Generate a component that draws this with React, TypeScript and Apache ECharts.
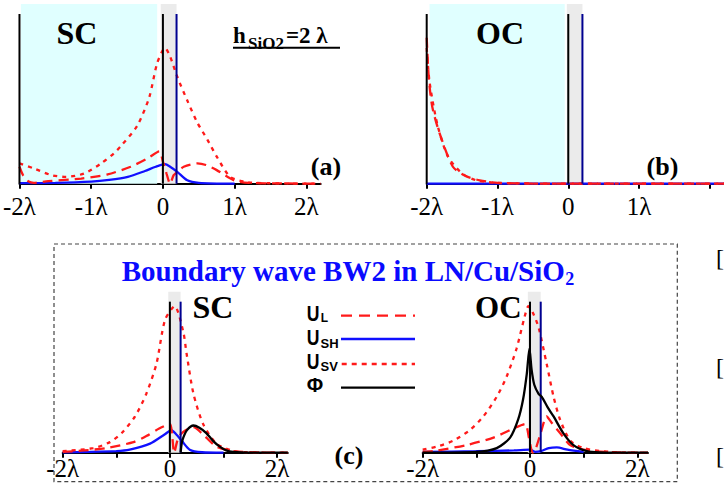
import React, { useEffect, useRef } from "react";
import * as echarts from "echarts";

// ---------- data (x in wavelengths λ, y normalised amplitude) ----------
const tickValues = [-2, -1, 0, 1, 2];
const tickLabels = ["-2λ", "-1λ", "0", "1λ", "2λ"];
const labelValuesA = [-2, -1, 0, 1, 2];
const labelValuesB = [-2, -1, 0, 1];
const labelValuesC = [-2, 0, 2];

// panel (a): SC, h_SiO2 = 2λ
const aUL = [[-2, 0.1], [-1.95, 0.05], [-1.88, 0.015], [-1.8, 0.005], [-1.6, 0.015], [-1.14, 0.03], [-0.77, 0.055], [-0.45, 0.1], [-0.21, 0.15], [-0.05, 0.19], [0.0, 0.13], [0.05, 0.06], [0.1, 0.0], [0.15, 0.05], [0.2, 0.07], [0.29, 0.1], [0.48, 0.12], [0.6, 0.11], [0.75, 0.08], [0.99, 0.02], [1.2, 0.005], [1.6, 0.002], [2.2, 0]];
const aUSV = [[-2, 0.12], [-1.8, 0.09], [-1.55, 0.05], [-1.35, 0.04], [-1.1, 0.06], [-0.86, 0.12], [-0.68, 0.18], [-0.59, 0.22], [-0.36, 0.34], [-0.19, 0.51], [-0.08, 0.71], [0.03, 0.8], [0.1, 0.75], [0.2, 0.63], [0.34, 0.49], [0.48, 0.36], [0.62, 0.26], [0.75, 0.16], [0.94, 0.04], [1.2, 0.008], [1.6, 0.002], [2.2, 0]];
const aUSH = [[-2, 0.003], [-1.5, 0.005], [-1, 0.012], [-0.75, 0.022], [-0.49, 0.04], [-0.25, 0.075], [-0.1, 0.1], [0.03, 0.115], [0.1, 0.1], [0.2, 0.07], [0.34, 0.02], [0.5, 0.005], [1, 0]];

// panel (b): OC
const bUL = [[-2, 0.86], [-1.97, 0.62], [-1.92, 0.45], [-1.82, 0.3], [-1.63, 0.1], [-1.45, 0.045], [-1.25, 0.02], [-1, 0.005], [-0.5, 0.001], [0, 0], [2.2, 0]];
const bUSV = [[-2, 0.8], [-1.96, 0.6], [-1.85, 0.35], [-1.7, 0.16], [-1.5, 0.06], [-1.3, 0.02], [-1, 0.005], [0, 0], [2.2, 0]];
const bUSH = [[-2, 0], [2.2, 0]];

// panel (c) SC
const cScUL = [[-2, 0.005], [-1.6, 0.015], [-1.2, 0.03], [-0.68, 0.07], [-0.44, 0.11], [-0.2, 0.16], [0.0, 0.19], [0.04, 0.12], [0.08, 0.0], [0.14, 0.08], [0.2, 0.12], [0.3, 0.15], [0.44, 0.17], [0.62, 0.12], [0.87, 0.04], [1.2, 0.01], [1.6, 0.002], [2.2, 0]];
const cScUSV = [[-2, 0.01], [-1.43, 0.03], [-1.12, 0.07], [-0.9, 0.13], [-0.65, 0.24], [-0.44, 0.39], [-0.25, 0.59], [-0.09, 0.88], [0.09, 0.97], [0.25, 0.8], [0.31, 0.66], [0.44, 0.39], [0.62, 0.19], [0.87, 0.06], [1.2, 0.01], [1.6, 0.002], [2.2, 0]];
const cScUSH = [[-2, 0.003], [-1.5, 0.005], [-1, 0.01], [-0.75, 0.02], [-0.37, 0.06], [-0.1, 0.12], [0.03, 0.15], [0.12, 0.12], [0.22, 0.08], [0.37, 0.02], [0.6, 0.003], [1, 0]];
const cScPhi = [[0.2, 0], [0.22, 0.06], [0.25, 0.1], [0.32, 0.15], [0.44, 0.18], [0.55, 0.165], [0.68, 0.13], [0.8, 0.08], [0.93, 0.04], [1.05, 0.015], [1.18, 0.005], [1.5, 0], [2.2, 0]];

// panel (c) OC
const cOcUL = [[-2, 0.005], [-1.81, 0.01], [-1.19, 0.05], [-0.68, 0.1], [-0.31, 0.16], [-0.09, 0.19], [-0.02, 0.1], [0.05, 0.0], [0.1, 0.02], [0.2, 0.13], [0.31, 0.24], [0.4, 0.2], [0.56, 0.13], [0.75, 0.05], [1.0, 0.02], [1.2, 0.01], [1.6, 0.002], [2.2, 0]];
const cOcUSV = [[-2, 0.02], [-1.74, 0.04], [-1.43, 0.08], [-1.12, 0.15], [-0.87, 0.24], [-0.62, 0.37], [-0.44, 0.5], [-0.25, 0.69], [-0.1, 0.9], [-0.03, 0.97], [0.05, 0.93], [0.16, 0.83], [0.31, 0.59], [0.44, 0.37], [0.56, 0.22], [0.75, 0.08], [1.0, 0.03], [1.5, 0.005], [2.2, 0]];
const cOcUSH = [[-2, 0.005], [-1, 0.01], [-0.3, 0.015], [0, 0.02], [0.1, 0.005], [0.2, 0.01], [0.35, 0.03], [0.5, 0.035], [0.7, 0.02], [1, 0.005]];
const cOcPhi = [[-2, 0], [-1, 0.005], [-0.62, 0.03], [-0.37, 0.1], [-0.22, 0.22], [-0.13, 0.35], [-0.06, 0.52], [-0.01, 0.69], [0.03, 0.55], [0.08, 0.45], [0.16, 0.39], [0.22, 0.37], [0.33, 0.3], [0.44, 0.24], [0.62, 0.13], [0.81, 0.05], [1.06, 0.01], [1.3, 0.002], [2.2, 0]];

// structure positions (λ)
const electrodeX = [0.19, 0.2, 0.2, 0.2];
const substrateSpan = [[-1.98, -0.08], [-1.96, -0.05]];
const metalSpan = [[-0.03, 0.19], [-0.02, 0.2], [-0.03, 0.2], [-0.04, 0.2]];

const RED = "#ff1a1a";
const BLUE = "#1010ff";
const NAVY = "#000090";
const SERIF = "Liberation Serif";
const SANS = "Liberation Sans";
const TITLE = "Boundary wave BW2 in LN/Cu/SiO";
const TITLE_SIZE = 29;

const grids = [
  { left: 18.3, top: 4, width: 302.4, height: 179.7, yMax: 1.059 },
  { left: 426.7, top: 4, width: 301.1, height: 179.7, yMax: 1.059 },
  { left: 62.7, top: 291.7, width: 225.1, height: 161, yMax: 1.066 },
  { left: 422.7, top: 291.7, width: 225.3, height: 161, yMax: 1.066 },
];
const labelSets = [labelValuesA, labelValuesB, labelValuesC, labelValuesC];
const labelMargins = [10, 10, 3, 3];

function curve(gi: number, data: number[][], color: string, dash: any, width = 2.3, z = 3) {
  return {
    type: "line", xAxisIndex: gi, yAxisIndex: gi, data, showSymbol: false, symbol: "none",
    smooth: 0.25, clip: false, z, silent: true,
    lineStyle: { color, width, type: dash },
  };
}
function vline(gi: number, x: number, color: string) {
  return {
    type: "line", xAxisIndex: gi, yAxisIndex: gi, data: [[x, 0], [x, 1]], showSymbol: false,
    symbol: "none", clip: false, z: 4, silent: true, lineStyle: { color, width: 2 },
  };
}

function measure(text: string, font: string, fallback: number) {
  try {
    const c = document.createElement("canvas").getContext("2d");
    if (!c) return fallback;
    c.font = font;
    return c.measureText(text).width;
  } catch (e) {
    return fallback;
  }
}

export default function App() {
  const ref = useRef<HTMLDivElement>(null);
  useEffect(() => {
    if (!ref.current) return;
    const chart = echarts.init(ref.current, undefined, { renderer: "svg" });

    const series: any[] = [];
    grids.forEach((g, gi) => {
      const areas: any[] = [];
      if (gi < 2) {
        areas.push([
          { xAxis: substrateSpan[gi][0], yAxis: 0, itemStyle: { color: "#e0ffff" } },
          { xAxis: substrateSpan[gi][1], yAxis: g.yMax },
        ]);
      }
      areas.push([
        { xAxis: metalSpan[gi][0], yAxis: 0, itemStyle: { color: "#ebebeb" } },
        { xAxis: metalSpan[gi][1], yAxis: g.yMax },
      ]);
      series.push({
        type: "line", xAxisIndex: gi, yAxisIndex: gi, data: [], z: 1, silent: true,
        markArea: { silent: true, data: areas, itemStyle: { opacity: 1 } },
      });
    });

    // vertical interfaces
    series.push(vline(0, -2, "#000"), vline(0, 0, "#000"), vline(0, electrodeX[0], NAVY));
    series.push(vline(1, -2, "#000"), vline(1, 0, "#000"), vline(1, electrodeX[1], NAVY));
    series.push(vline(2, 0, "#000"), vline(2, electrodeX[2], NAVY));
    series.push(vline(3, 0, "#000"), vline(3, electrodeX[3], NAVY));

    const LD = [10, 6];
    const SD = [4, 5];
    series.push(
      curve(0, aUSH, BLUE, "solid"), curve(0, aUL, RED, LD), curve(0, aUSV, RED, SD),
      curve(1, bUSH, BLUE, "solid"), curve(1, bUL, RED, LD), curve(1, bUSV, RED, SD),
      curve(2, cScUSH, BLUE, "solid"), curve(2, cScUL, RED, LD), curve(2, cScUSV, RED, SD), curve(2, cScPhi, "#000", "solid", 2.3, 5),
      curve(3, cOcUSH, BLUE, "solid"), curve(3, cOcUL, RED, LD), curve(3, cOcUSV, RED, SD), curve(3, cOcPhi, "#000", "solid", 2.3, 5),
    );

    const labelOf = (v: number) => {
      const i = tickValues.indexOf(v);
      return i >= 0 ? tickLabels[i] : "";
    };

    const txt = (text: string, x: number, y: number, size: number, opts: any = {}) => ({
      type: "text", x, y, z: 100, silent: true, scaleX: opts.scaleX || 1,
      style: {
        text, fill: opts.fill || "#000", fontSize: size, fontFamily: opts.family || SERIF,
        fontWeight: opts.weight || "bold",
        align: opts.align || "center", verticalAlign: "middle",
        textAlign: opts.align || "center", textVerticalAlign: "middle",
      },
    });
    const seg = (x1: number, y1: number, x2: number, y2: number, stroke: string, dash?: number[], w = 2.3) => ({
      type: "line", z: 100, silent: true, shape: { x1, y1, x2, y2 },
      style: { stroke, lineWidth: w, lineDash: dash || null },
    });

    const titleX = 121.7;
    const titleW = measure(TITLE, `bold ${TITLE_SIZE}px "${SERIF}"`, 448);
    const subX = titleX + titleW + 0.5;

    const graphic: any[] = [
      // panel (a)
      txt("SC", 77, 33, 32),
      txt("h", 233, 35.5, 23, { align: "left" }),
      txt("SiO2", 248, 43, 17, { align: "left" }),
      txt("=2 λ", 286, 35.5, 23, { align: "left" }),
      seg(233, 47.7, 340, 47.7, "#000", undefined, 2),
      txt("(a)", 326, 166, 26),
      // panel (b)
      txt("OC", 500, 33, 32),
      txt("(b)", 662.5, 166, 26),
      // panel (c)
      { type: "rect", z: 90, silent: true, shape: { x: 54, y: 244, width: 623.3, height: 237.7 },
        style: { fill: "none", stroke: "#444", lineWidth: 1.2, lineDash: [4, 3] } },
      txt(TITLE, titleX, 270.5, TITLE_SIZE, { align: "left", fill: "#0a0aff" }),
      txt("2", subX, 279, 18, { align: "left", fill: "#0a0aff" }),
      txt("SC", 213, 307, 32),
      txt("OC", 498.3, 307, 31),
      txt("(c)", 349, 455, 26),
      // legend
      txt("U", 306.7, 313.3, 22, { align: "left", family: SANS, scaleX: 0.8 }),
      txt("L", 320.7, 317.5, 12, { align: "left", family: SANS }),
      txt("U", 306.7, 337.3, 22, { align: "left", family: SANS, scaleX: 0.8 }),
      txt("SH", 320.5, 343.2, 13, { align: "left", family: SANS }),
      txt("U", 306.7, 361.3, 22, { align: "left", family: SANS, scaleX: 0.8 }),
      txt("SV", 320.5, 366.5, 13, { align: "left", family: SANS }),
      txt("Φ", 306.7, 385, 20, { align: "left", family: SANS }),
      seg(341, 315.7, 415, 315.7, RED, [11, 7]),
      seg(341, 339, 415, 339, BLUE),
      seg(341.7, 364, 415, 364, RED, [5, 5]),
      seg(341, 387.7, 415, 387.7, "#000"),
      // right-edge brackets
      txt("[", 716, 257.5, 24, { align: "left", weight: "normal" }),
      txt("[", 716, 366.5, 24, { align: "left", weight: "normal" }),
      txt("[", 716, 456, 24, { align: "left", weight: "normal" }),
    ];

    chart.setOption({
      animation: false,
      backgroundColor: "#fff",
      grid: grids.map((g) => ({ left: g.left, top: g.top, width: g.width, height: g.height, containLabel: false })),
      xAxis: grids.map((g, gi) => ({
        gridIndex: gi, type: "value", min: -2, max: 2.2,
        axisLine: { show: true, onZero: false, lineStyle: { color: "#000", width: 2 } },
        axisTick: { show: true, customValues: tickValues, length: 5, lineStyle: { color: "#000", width: 2 } },
        axisLabel: {
          show: true, customValues: labelSets[gi], formatter: (v: number) => labelOf(v),
          margin: labelMargins[gi], color: "#000", fontSize: 25, fontFamily: SERIF, hideOverlap: false,
        },
        splitLine: { show: false },
      })),
      yAxis: grids.map((g, gi) => ({
        gridIndex: gi, type: "value", min: 0, max: g.yMax, show: false, splitLine: { show: false },
      })),
      series,
      graphic,
    });
    return () => chart.dispose();
  }, []);
  return <div ref={ref} style={{ position: "fixed", left: 0, top: 0, width: 724, height: 487, background: "#fff" }} />;
}
